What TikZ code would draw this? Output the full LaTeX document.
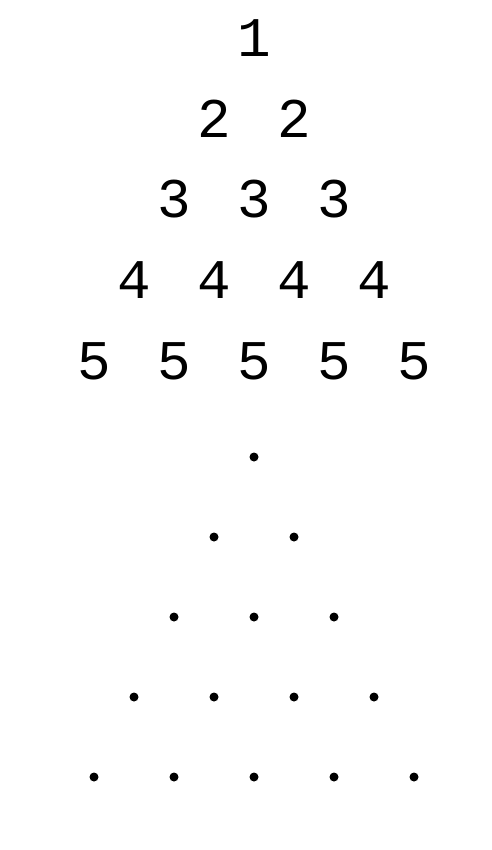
\documentclass[tikz,border=0pt]{standalone}
\usepackage{fontspec}
\setmonofont{Liberation Mono}
\begin{document}
\begin{tikzpicture}[x=1pt,y=-1pt,
  num/.style={inner sep=0pt,font=\ttfamily\fontsize{56}{56}\selectfont},
  dotnode/.style={circle,fill=black,inner sep=0pt,minimum size=9pt}]
\useasboundingbox (0,0) rectangle (491,850);
\foreach \r in {1,...,5}{
  \foreach \c in {1,...,\r}{
    \pgfmathsetmacro{\xx}{254+80*(\c-1)-40*(\r-1)}
    \pgfmathsetmacro{\yy}{38+80.75*(\r-1)}
    \pgfmathsetmacro{\yd}{457+80*(\r-1)}
    \node[num] (n\r\c) at (\xx,\yy) {\r};
    \node[dotnode] (d\r\c) at (\xx,\yd) {};
  }
}
\end{tikzpicture}
\end{document}
